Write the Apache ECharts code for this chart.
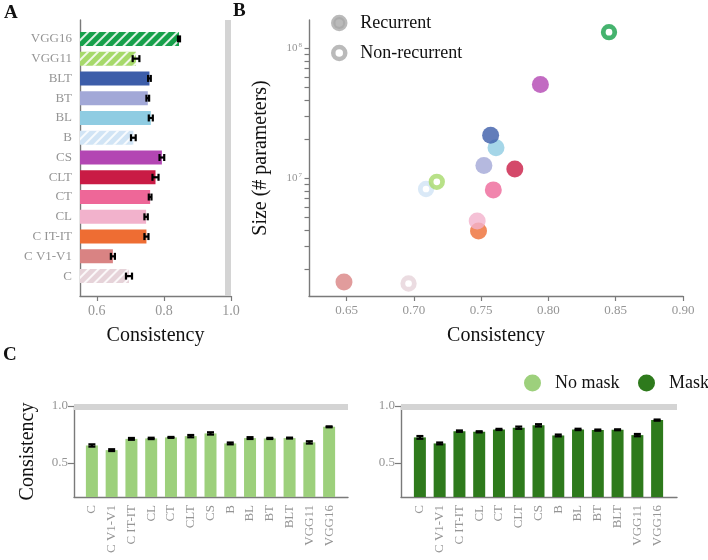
<!DOCTYPE html>
<html>
<head>
<meta charset="utf-8">
<script src="https://cdn.jsdelivr.net/npm/echarts@6/dist/echarts.min.js"></script>
<style>html,body{margin:0;padding:0;background:#fff}#chart{width:708px;height:560px}</style>
</head>
<body>
<div id="chart"></div>
<script>
const models = ["C", "C V1-V1", "C IT-IT", "CL", "CT", "CLT", "CS", "B", "BL", "BT", "BLT", "VGG11", "VGG16"];
const consistency = [0.696, 0.648, 0.748, 0.747, 0.759, 0.775, 0.794, 0.709, 0.761, 0.752, 0.757, 0.717, 0.845];
const consistencyErr = [0.009, 0.006, 0.006, 0.005, 0.004, 0.009, 0.007, 0.007, 0.006, 0.004, 0.004, 0.010, 0.003];
const paramCount = [1.56e6, 1.60e6, 3.94e6, 4.72e6, 8.17e6, 1.18e7, 5.28e7, 8.3e6, 1.72e7, 1.26e7, 2.15e7, 9.43e6, 1.33e8];
const recurrent = [false, true, true, true, true, true, true, false, true, true, true, false, false];
const noMask = [0.653, 0.612, 0.711, 0.715, 0.724, 0.735, 0.759, 0.671, 0.718, 0.715, 0.718, 0.680, 0.817];
const noMaskErr = [0.010, 0.008, 0.008, 0.006, 0.004, 0.010, 0.010, 0.008, 0.008, 0.005, 0.004, 0.010, 0.004];
const mask = [0.724, 0.671, 0.779, 0.773, 0.794, 0.809, 0.830, 0.741, 0.794, 0.788, 0.791, 0.744, 0.876];
const maskErr = [0.012, 0.008, 0.006, 0.005, 0.005, 0.010, 0.010, 0.008, 0.006, 0.005, 0.004, 0.010, 0.005];
const ticksA = [0.6, 0.8, 1.0];
const ticksB = [0.65, 0.70, 0.75, 0.80, 0.85, 0.90];
const sizeTicks = [1e7, 1e8];
const sizeMinorTicks = [2e6, 3e6, 4e6, 5e6, 6e6, 7e6, 8e6, 9e6, 2e7, 3e7, 4e7, 5e7, 6e7, 7e7, 8e7, 9e7];
const ticksC = [0.5, 1.0];

const modelColors = ["#e6d3d9", "#d98383", "#ee6d33", "#f2b2cc", "#ee6798", "#c91b45", "#b346b3",
    "#d1e4f5", "#8fcce2", "#a2a8d7", "#3c5da9", "#a6d96a", "#16a04a"];
const serif = "'Liberation Serif', 'DejaVu Serif', serif";
const axisGray = "#7a7a7a";
const labelGray = "#959595";
const hatch = {
    symbol: "rect",
    symbolSize: 1,
    dashArrayX: [1, 0],
    dashArrayY: [2, 5],
    rotation: -Math.PI / 4,
    color: "rgba(255,255,255,0.85)",
};

const axisLine = { show: true, lineStyle: { color: axisGray, width: 1.4 } };
const tickStyle = { lineStyle: { color: axisGray, width: 1.2 } };
const nameStyle = { fontFamily: serif, fontSize: 20, color: "#111" };
const legendText = { fontFamily: serif, fontSize: 18, color: "#111" };

// error bars with caps, drawn through the axes of the given grid
const errorBars = (values, errs, horizontal, xi, yi) => ({
    type: "custom",
    xAxisIndex: xi,
    yAxisIndex: yi,
    silent: true,
    z: 5,
    encode: horizontal ? { x: [1, 2], y: 0 } : { x: 0, y: [1, 2] },
    data: values.map((v, i) => [i, v - errs[i], v + errs[i]]),
    renderItem: (params, api) => {
        const idx = api.value(0);
        const p1 = horizontal ? api.coord([api.value(1), idx]) : api.coord([idx, api.value(1)]);
        const p2 = horizontal ? api.coord([api.value(2), idx]) : api.coord([idx, api.value(2)]);
        const c = 3.5;
        const style = { stroke: "#000", lineWidth: 2.2 };
        const caps = horizontal
            ? [[p1[0], p1[1] - c, p1[0], p1[1] + c], [p2[0], p2[1] - c, p2[0], p2[1] + c]]
            : [[p1[0] - c, p1[1], p1[0] + c, p1[1]], [p2[0] - c, p2[1], p2[0] + c, p2[1]]];
        return {
            type: "group",
            children: [
                { type: "line", shape: { x1: p1[0], y1: p1[1], x2: p2[0], y2: p2[1] }, style },
                ...caps.map((s) => ({ type: "line", shape: { x1: s[0], y1: s[1], x2: s[2], y2: s[3] }, style })),
            ],
        };
    },
});

const grayLine = (xi, yi, pos) => ({
    type: "scatter",
    xAxisIndex: xi,
    yAxisIndex: yi,
    data: [],
    silent: true,
    markLine: {
        symbol: "none",
        silent: true,
        label: { show: false },
        lineStyle: { color: "#d4d4d4", width: 6, type: "solid" },
        data: [pos],
    },
});

const supFormatter = (v) => "{b|10}{s|" + Math.round(Math.log10(v)) + "}";

const chart = echarts.init(document.getElementById("chart"));
chart.setOption({
    animation: false,
    textStyle: { fontFamily: serif },
    grid: [
        { left: 80, top: 29, width: 151, height: 257 },
        { left: 80, top: 20, width: 151, height: 276 },
        { left: 309, top: 20, width: 374, height: 276 },
        { left: 82, top: 406, width: 257, height: 91 },
        { left: 74, top: 406, width: 274, height: 91 },
        { left: 410, top: 406, width: 257, height: 91 },
        { left: 401, top: 406, width: 276, height: 91 },
    ],
    xAxis: [
        { gridIndex: 0, type: "value", min: 0.55, max: 1.0, show: false },
        {
            gridIndex: 1, type: "value", min: 0.55, max: 1.0,
            axisLine, splitLine: { show: false },
            axisTick: { ...tickStyle, length: 5, customValues: ticksA },
            axisLabel: { customValues: ticksA, color: labelGray, fontSize: 14, margin: 8, formatter: (v) => v.toFixed(1) },
            name: "Consistency", nameLocation: "middle", nameGap: 30, nameTextStyle: nameStyle,
        },
        {
            gridIndex: 2, type: "value", min: 0.622, max: 0.9,
            axisLine, splitLine: { show: false },
            axisTick: { ...tickStyle, length: 5, customValues: ticksB },
            axisLabel: { customValues: ticksB, color: labelGray, fontSize: 13, margin: 8, formatter: (v) => v.toFixed(2) },
            name: "Consistency", nameLocation: "middle", nameGap: 30, nameTextStyle: nameStyle,
        },
        {
            gridIndex: 3, type: "category", data: models,
            axisLine: { show: false },
            axisTick: { ...tickStyle, length: 5, alignWithLabel: true },
            axisLabel: { rotate: 90, color: labelGray, fontSize: 13, margin: 8, interval: 0 },
        },
        { gridIndex: 4, type: "value", min: 0, max: 1, axisLine, axisTick: { show: false }, axisLabel: { show: false }, splitLine: { show: false } },
        {
            gridIndex: 5, type: "category", data: models,
            axisLine: { show: false },
            axisTick: { ...tickStyle, length: 5, alignWithLabel: true },
            axisLabel: { rotate: 90, color: labelGray, fontSize: 13, margin: 8, interval: 0 },
        },
        { gridIndex: 6, type: "value", min: 0, max: 1, axisLine, axisTick: { show: false }, axisLabel: { show: false }, splitLine: { show: false } },
    ],
    yAxis: [
        {
            gridIndex: 0, type: "category", data: models,
            axisLine: { show: false },
            axisTick: { ...tickStyle, length: 4, alignWithLabel: true },
            axisLabel: { color: labelGray, fontSize: 13, margin: 8 },
        },
        { gridIndex: 1, type: "value", min: 0, max: 1, axisLine, axisTick: { show: false }, axisLabel: { show: false }, splitLine: { show: false } },
        {
            gridIndex: 2, type: "log", logBase: 10, min: 1.25e6, max: 1.65e8,
            axisLine, splitLine: { show: false },
            axisTick: { ...tickStyle, length: 4.5, customValues: sizeTicks.concat(sizeMinorTicks) },
            axisLabel: {
                customValues: sizeTicks, formatter: supFormatter, margin: 7,
                rich: {
                    b: { fontSize: 11, color: labelGray, fontFamily: serif },
                    s: { fontSize: 7, color: labelGray, fontFamily: serif, padding: [0, 0, 7, 1] },
                },
            },
            name: "Size (# parameters)", nameLocation: "middle", nameGap: 38, nameTextStyle: nameStyle,
        },
        { gridIndex: 3, type: "value", min: 0.2, max: 1.0, show: false },
        {
            gridIndex: 4, type: "value", min: 0.2, max: 1.0,
            axisLine, splitLine: { show: false },
            axisTick: { ...tickStyle, length: 6, customValues: ticksC },
            axisLabel: { customValues: ticksC, color: labelGray, fontSize: 13, margin: 6, formatter: (v) => v.toFixed(1) },
            name: "Consistency", nameLocation: "middle", nameGap: 36, nameTextStyle: nameStyle,
        },
        { gridIndex: 5, type: "value", min: 0.2, max: 1.0, show: false },
        {
            gridIndex: 6, type: "value", min: 0.2, max: 1.0,
            axisLine, splitLine: { show: false },
            axisTick: { ...tickStyle, length: 6, customValues: ticksC },
            axisLabel: { customValues: ticksC, color: labelGray, fontSize: 13, margin: 6, formatter: (v) => v.toFixed(1) },
        },
    ],
    legend: [
        {
            data: [
                { name: "Recurrent", itemStyle: { color: "#a9a9a9", borderColor: "#a9a9a9", borderWidth: 4.5 } },
                { name: "Non-recurrent", itemStyle: { color: "#fff", borderColor: "#a9a9a9", borderWidth: 4.5 } },
            ],
            orient: "vertical", left: 331, top: 14, padding: 0, itemWidth: 12, itemHeight: 12, itemGap: 12,
            icon: "circle", selectedMode: false,
            textStyle: { ...legendText, padding: [0, 0, 0, 10] },
        },
        {
            data: [{ name: "No mask", itemStyle: { color: "#9dd07c" } }],
            left: 524, top: 374, padding: 0, itemWidth: 17, itemHeight: 17,
            icon: "circle", selectedMode: false,
            textStyle: { ...legendText, padding: [0, 0, 0, 9] },
        },
        {
            data: [{ name: "Mask", itemStyle: { color: "#2e7a1c" } }],
            left: 638, top: 374, padding: 0, itemWidth: 17, itemHeight: 17,
            icon: "circle", selectedMode: false,
            textStyle: { ...legendText, padding: [0, 0, 0, 9] },
        },
    ],
    series: [
        {
            type: "bar", xAxisIndex: 0, yAxisIndex: 0, barWidth: 14,
            data: consistency.map((v, i) => ({
                value: v,
                itemStyle: { color: modelColors[i], ...(recurrent[i] ? {} : { decal: hatch }) },
            })),
        },
        errorBars(consistency, consistencyErr, true, 0, 0),
        grayLine(1, 1, { xAxis: 0.99 }),
        {
            name: "Recurrent", type: "scatter", xAxisIndex: 2, yAxisIndex: 2, symbolSize: 17,
            data: consistency.map((v, i) => ({ value: [v, paramCount[i]], itemStyle: { color: modelColors[i] } }))
                .filter((d, i) => recurrent[i]),
        },
        {
            name: "Non-recurrent", type: "scatter", xAxisIndex: 2, yAxisIndex: 2, symbolSize: 11.5,
            data: consistency.map((v, i) => ({
                value: [v, paramCount[i]],
                itemStyle: { color: "#fff", borderColor: modelColors[i], borderWidth: 4.8 },
            })).filter((d, i) => !recurrent[i]),
        },
        { name: "No mask", type: "bar", xAxisIndex: 3, yAxisIndex: 3, barWidth: 12, itemStyle: { color: "#9dd07c" }, data: noMask },
        errorBars(noMask, noMaskErr, false, 3, 3),
        grayLine(4, 4, { yAxis: 0.99 }),
        { name: "Mask", type: "bar", xAxisIndex: 5, yAxisIndex: 5, barWidth: 12, itemStyle: { color: "#2e7a1c" }, data: mask },
        errorBars(mask, maskErr, false, 5, 5),
        grayLine(6, 6, { yAxis: 0.99 }),
    ],
    graphic: [
        { type: "text", left: 4, top: 4, style: { text: "A", fontFamily: serif, fontSize: 19, fontWeight: "bold", fill: "#111" } },
        { type: "text", left: 233, top: 2, style: { text: "B", fontFamily: serif, fontSize: 19, fontWeight: "bold", fill: "#111" } },
        { type: "text", left: 3, top: 346, style: { text: "C", fontFamily: serif, fontSize: 19, fontWeight: "bold", fill: "#111" } },
    ],
});
</script>
</body>
</html>
